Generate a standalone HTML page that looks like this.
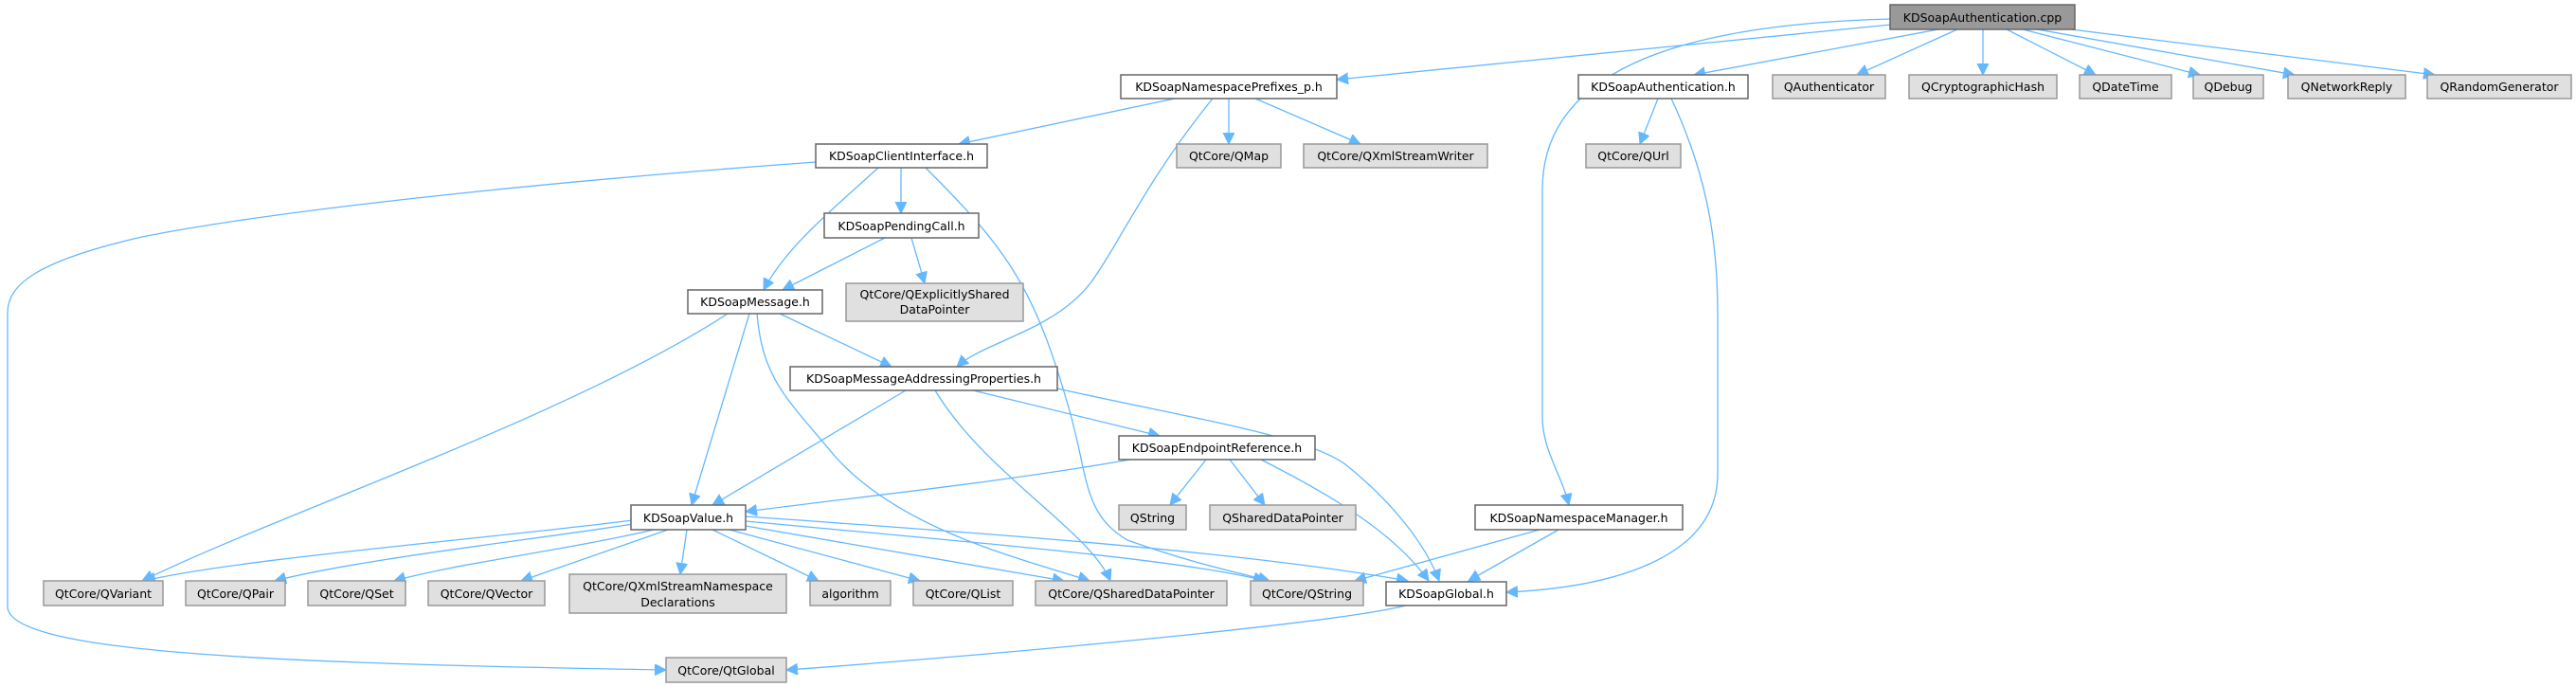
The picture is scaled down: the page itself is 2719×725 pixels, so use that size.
<!DOCTYPE html>
<html><head><meta charset="utf-8"><style>
html,body{margin:0;padding:0;background:#fff;}
svg{display:block;}
text{font-family:"DejaVu Sans","Liberation Sans",sans-serif;font-size:12.5px;fill:#000;}
.e{fill:none;stroke:#63b8ff;stroke-width:1.3;}
.w{fill:#fff;stroke:#666;stroke-width:1.5;}
.g{fill:#e0e0e0;stroke:#999;stroke-width:1.5;}
.c{fill:#999;stroke:#666;stroke-width:1.5;}
</style></head><body>
<svg width="2719" height="725" viewBox="0 0 2719 725" xmlns="http://www.w3.org/2000/svg">
<defs>
<marker id="a" markerUnits="userSpaceOnUse" markerWidth="16" markerHeight="14" refX="12" refY="6" orient="auto">
<path d="M0,0 L12,6 L0,12 Z" fill="#63b8ff" stroke="#63b8ff"/>
</marker>
</defs>
<g marker-end="url(#a)">
<path class="e" d="M1996,26 L1411,84"/>
<path class="e" d="M1996,20 C1760,26 1628,80 1628,200 L1628,440 C1628,475 1648,500 1656,533"/>
<path class="e" d="M2046,31 L1788,79"/>
<path class="e" d="M2066,31 L1960,79"/>
<path class="e" d="M2093,31 L2093,79"/>
<path class="e" d="M2118,31 L2212,79"/>
<path class="e" d="M2135,31 L2322,79"/>
<path class="e" d="M2150,31 L2422,79"/>
<path class="e" d="M2178,30 L2570,79"/>
<path class="e" d="M1240,104 L1012,152"/>
<path class="e" d="M1280,104 C1210,190 1180,260 1150,300 C1110,350 1040,360 1010,387"/>
<path class="e" d="M1297,104 L1297,152"/>
<path class="e" d="M1325,104 L1436,152"/>
<path class="e" d="M1750,104 L1731,152"/>
<path class="e" d="M1764,104 C1800,180 1813,250 1813,330 L1813,500 C1813,590 1700,620 1590,625"/>
<path class="e" d="M861,171 C600,190 300,220 150,250 C40,275 8,300 8,330 L8,640 C8,690 300,700 703,707"/>
<path class="e" d="M951,177 L951,225"/>
<path class="e" d="M927,177 C880,220 830,260 806,306"/>
<path class="e" d="M977,177 C1060,260 1090,300 1125,420 C1150,500 1140,540 1190,570 C1260,595 1310,605 1340,613"/>
<path class="e" d="M934,251 L826,306"/>
<path class="e" d="M962,251 L976,299"/>
<path class="e" d="M768,331 C600,440 300,540 150,613"/>
<path class="e" d="M791,331 L730,533"/>
<path class="e" d="M799,331 C805,400 830,420 880,480 C950,560 1080,590 1150,613"/>
<path class="e" d="M823,331 L941,387"/>
<path class="e" d="M956,412 L752,533"/>
<path class="e" d="M987,412 C1040,500 1150,560 1172,613"/>
<path class="e" d="M1027,412 L1224,460"/>
<path class="e" d="M1116,410 C1250,440 1380,460 1420,490 C1470,530 1505,575 1519,613"/>
<path class="e" d="M1193,485 C1050,510 900,525 787,540"/>
<path class="e" d="M1273,485 L1235,533"/>
<path class="e" d="M1298,485 L1335,533"/>
<path class="e" d="M1331,485 C1400,520 1470,560 1508,613"/>
<path class="e" d="M1625,559 L1430,613"/>
<path class="e" d="M1645,559 L1550,613"/>
<path class="e" d="M1484,639 C1400,660 1000,695 830,707"/>
<path class="e" d="M668,549 C500,570 250,590 152,613"/>
<path class="e" d="M668,553 C560,570 380,590 290,613"/>
<path class="e" d="M690,559 C600,580 480,595 416,613"/>
<path class="e" d="M705,559 L550,613"/>
<path class="e" d="M725,559 L718,606"/>
<path class="e" d="M752,559 L864,613"/>
<path class="e" d="M770,559 L971,613"/>
<path class="e" d="M787,555 L1123,613"/>
<path class="e" d="M787,550 C1000,570 1250,590 1335,613"/>
<path class="e" d="M787,545 C1000,560 1300,580 1486,613"/>
</g>
<g>
<rect class="c" x="1995" y="5" width="195" height="26"/><text x="2092.5" y="23" text-anchor="middle">KDSoapAuthentication.cpp</text>
<rect class="w" x="1183" y="79" width="228" height="25"/><text x="1297" y="96" text-anchor="middle">KDSoapNamespacePrefixes_p.h</text>
<rect class="w" x="1666" y="79" width="179" height="25"/><text x="1755.5" y="96" text-anchor="middle">KDSoapAuthentication.h</text>
<rect class="g" x="1871" y="79" width="119" height="25"/><text x="1930.5" y="96" text-anchor="middle">QAuthenticator</text>
<rect class="g" x="2015" y="79" width="156" height="25"/><text x="2093" y="96" text-anchor="middle">QCryptographicHash</text>
<rect class="g" x="2195" y="79" width="97" height="25"/><text x="2243.5" y="96" text-anchor="middle">QDateTime</text>
<rect class="g" x="2315" y="79" width="74" height="25"/><text x="2352" y="96" text-anchor="middle">QDebug</text>
<rect class="g" x="2415" y="79" width="124" height="25"/><text x="2477" y="96" text-anchor="middle">QNetworkReply</text>
<rect class="g" x="2562" y="79" width="152" height="25"/><text x="2638" y="96" text-anchor="middle">QRandomGenerator</text>
<rect class="w" x="861" y="152" width="181" height="25"/><text x="951.5" y="169" text-anchor="middle">KDSoapClientInterface.h</text>
<rect class="g" x="1242" y="152" width="110" height="25"/><text x="1297" y="169" text-anchor="middle">QtCore/QMap</text>
<rect class="g" x="1376" y="152" width="194" height="25"/><text x="1473" y="169" text-anchor="middle">QtCore/QXmlStreamWriter</text>
<rect class="g" x="1674" y="152" width="100" height="25"/><text x="1724" y="169" text-anchor="middle">QtCore/QUrl</text>
<rect class="w" x="870" y="225" width="163" height="26"/><text x="951.5" y="243" text-anchor="middle">KDSoapPendingCall.h</text>
<rect class="g" x="893" y="299" width="187" height="40"/><text x="986.5" y="315" text-anchor="middle">QtCore/QExplicitlyShared</text><text x="986.5" y="331" text-anchor="middle">DataPointer</text>
<rect class="w" x="726" y="306" width="142" height="25"/><text x="797" y="323" text-anchor="middle">KDSoapMessage.h</text>
<rect class="w" x="834" y="387" width="282" height="25"/><text x="975" y="404" text-anchor="middle">KDSoapMessageAddressingProperties.h</text>
<rect class="w" x="1181" y="460" width="207" height="25"/><text x="1284.5" y="477" text-anchor="middle">KDSoapEndpointReference.h</text>
<rect class="w" x="666" y="533" width="121" height="26"/><text x="726.5" y="551" text-anchor="middle">KDSoapValue.h</text>
<rect class="g" x="1181" y="533" width="71" height="26"/><text x="1216.5" y="551" text-anchor="middle">QString</text>
<rect class="g" x="1277" y="533" width="154" height="26"/><text x="1354" y="551" text-anchor="middle">QSharedDataPointer</text>
<rect class="w" x="1557" y="533" width="219" height="26"/><text x="1666.5" y="551" text-anchor="middle">KDSoapNamespaceManager.h</text>
<rect class="g" x="46" y="613" width="126" height="26"/><text x="109" y="631" text-anchor="middle">QtCore/QVariant</text>
<rect class="g" x="196" y="613" width="105" height="26"/><text x="248.5" y="631" text-anchor="middle">QtCore/QPair</text>
<rect class="g" x="325" y="613" width="103" height="26"/><text x="376.5" y="631" text-anchor="middle">QtCore/QSet</text>
<rect class="g" x="452" y="613" width="123" height="26"/><text x="513.5" y="631" text-anchor="middle">QtCore/QVector</text>
<rect class="g" x="601" y="606" width="229" height="41"/><text x="715.5" y="623" text-anchor="middle">QtCore/QXmlStreamNamespace</text><text x="715.5" y="640" text-anchor="middle">Declarations</text>
<rect class="g" x="855" y="613" width="85" height="26"/><text x="897.5" y="631" text-anchor="middle">algorithm</text>
<rect class="g" x="964" y="613" width="105" height="26"/><text x="1016.5" y="631" text-anchor="middle">QtCore/QList</text>
<rect class="g" x="1093" y="613" width="202" height="26"/><text x="1194" y="631" text-anchor="middle">QtCore/QSharedDataPointer</text>
<rect class="g" x="1320" y="613" width="119" height="26"/><text x="1379.5" y="631" text-anchor="middle">QtCore/QString</text>
<rect class="w" x="1463" y="614" width="127" height="25"/><text x="1526.5" y="631" text-anchor="middle">KDSoapGlobal.h</text>
<rect class="g" x="703" y="694" width="127" height="26"/><text x="766.5" y="712" text-anchor="middle">QtCore/QtGlobal</text>
</g>
</svg>
</body></html>
